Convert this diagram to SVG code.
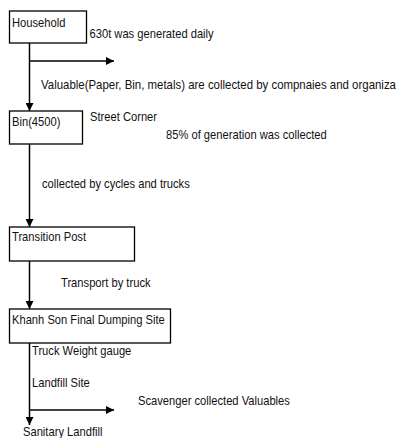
<svg xmlns="http://www.w3.org/2000/svg" width="396" height="438" viewBox="0 0 396 438">
  <defs>
    <marker id="arrow" viewBox="0 0 10 10" refX="10" refY="5" markerWidth="8" markerHeight="8" markerUnits="userSpaceOnUse" orient="auto">
      <path d="M0,0 L10,5 L0,10 z" fill="#000"/>
    </marker>
    <style>
      .box { fill: #fff; stroke: #000; stroke-width: 1.3; }
      .conn { fill: none; stroke: #000; stroke-width: 1.5; }
      /* condensed sans: tall glyphs, narrowed horizontally */
      text { font-family: "Liberation Sans", Arial, sans-serif; font-size: 13px; fill: #111; }
    </style>
  </defs>
  <rect width="396" height="438" fill="#fff"/>

  <g id="connectors">
    <line class="conn" x1="29.5" y1="43" x2="29.5" y2="111" marker-end="url(#arrow)"/>
    <line class="conn" x1="29.5" y1="61" x2="114" y2="61" marker-end="url(#arrow)"/>
    <line class="conn" x1="29.5" y1="144" x2="29.5" y2="227" marker-end="url(#arrow)"/>
    <line class="conn" x1="29.5" y1="261" x2="29.5" y2="309" marker-end="url(#arrow)"/>
    <line class="conn" x1="29.5" y1="343" x2="29.5" y2="425" marker-end="url(#arrow)"/>
    <line class="conn" x1="29.5" y1="410" x2="114" y2="410" marker-end="url(#arrow)"/>
  </g>

  <g id="household">
    <rect class="box" x="9.5" y="11" width="77" height="32"/>
    <text transform="translate(12 26.5) scale(0.86 1)">Household</text>
  </g>
  <g id="bin">
    <rect class="box" x="9.5" y="111" width="73" height="33"/>
    <text transform="translate(12 125.5) scale(0.86 1)">Bin(4500)</text>
  </g>
  <g id="transition-post">
    <rect class="box" x="9.5" y="227" width="125" height="34"/>
    <text transform="translate(12 240.5) scale(0.86 1)">Transition Post</text>
  </g>
  <g id="khanh-son">
    <rect class="box" x="9.5" y="309" width="161" height="34"/>
    <text transform="translate(12 324) scale(0.86 1)">Khanh Son Final Dumping Site</text>
  </g>

  <g id="labels">
    <text transform="translate(89.5 38) scale(0.86 1)">630t was generated daily</text>
    <text transform="translate(41 88.5) scale(0.88 1)">Valuable(Paper, Bin, metals) are collected by compnaies and organizations</text>
    <text transform="translate(90 121) scale(0.86 1)">Street Corner</text>
    <text transform="translate(166 139) scale(0.86 1)">85% of generation was collected</text>
    <text transform="translate(42 187.5) scale(0.86 1)">collected by cycles and trucks</text>
    <text transform="translate(61 287) scale(0.86 1)">Transport by truck</text>
    <text transform="translate(32 355) scale(0.86 1)">Truck Weight gauge</text>
    <text transform="translate(32 386.5) scale(0.86 1)">Landfill Site</text>
    <text transform="translate(138 405) scale(0.86 1)">Scavenger collected Valuables</text>
    <text transform="translate(23 436) scale(0.86 1)">Sanitary Landfill</text>
  </g>
</svg>
